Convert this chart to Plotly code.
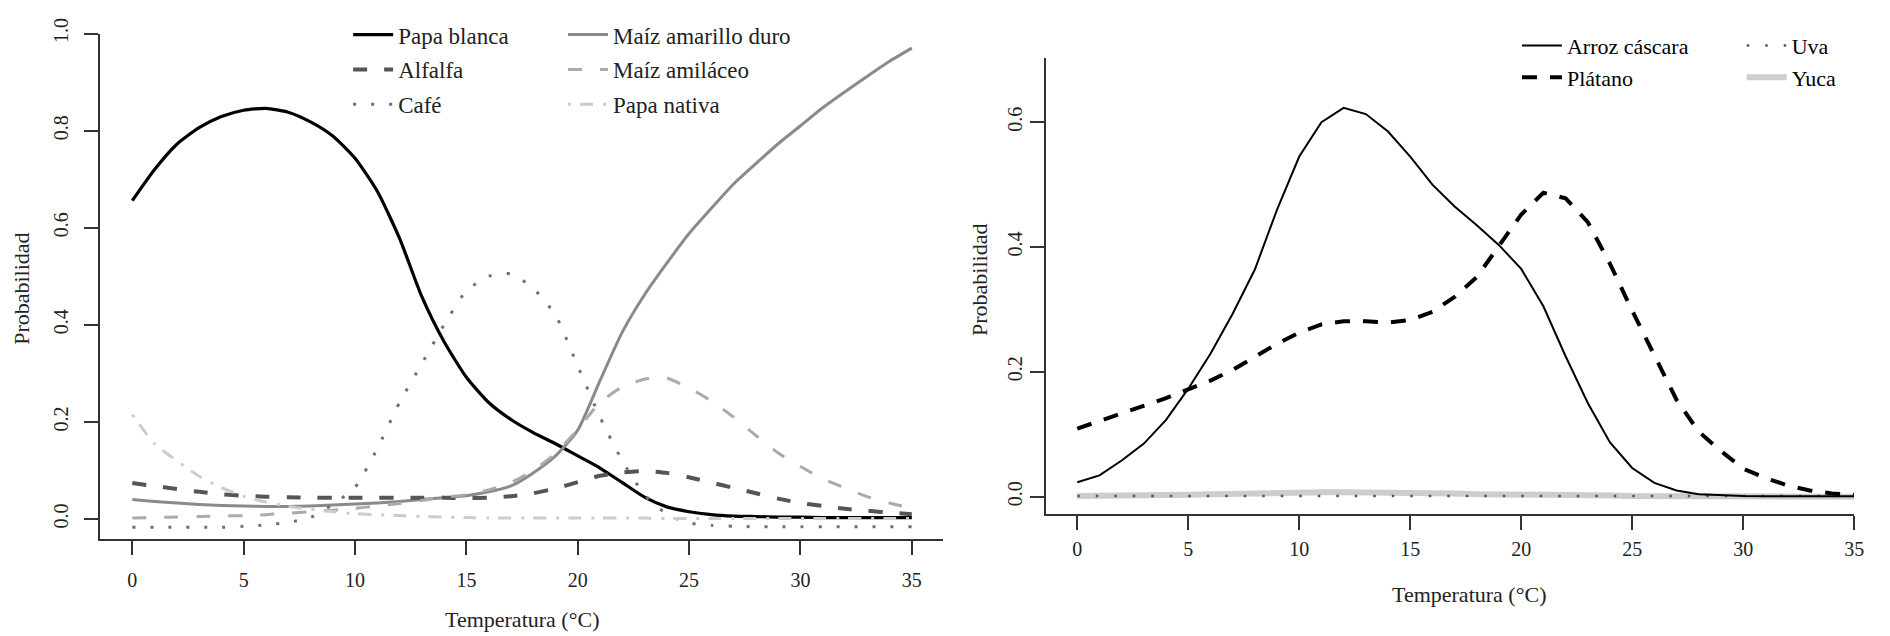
import plotly.graph_objects as go

W, H = 1890, 636

# ---------------- data ----------------
temp = list(range(0, 36))

papa_blanca = [0.656, 0.72, 0.772, 0.806, 0.829, 0.842, 0.846, 0.838, 0.818, 0.789,
               0.743, 0.675, 0.578, 0.458, 0.365, 0.292, 0.24, 0.205, 0.178, 0.155,
               0.13, 0.105, 0.075, 0.045, 0.025, 0.015, 0.009, 0.006, 0.005, 0.004,
               0.004, 0.003, 0.003, 0.003, 0.003, 0.003]
alfalfa = [0.074, 0.068, 0.062, 0.056, 0.051, 0.048, 0.046, 0.045, 0.044, 0.044,
           0.044, 0.044, 0.044, 0.044, 0.044, 0.043, 0.044, 0.047, 0.053, 0.063,
           0.076, 0.089, 0.096, 0.099, 0.095, 0.086, 0.075, 0.064, 0.053, 0.042,
           0.033, 0.027, 0.021, 0.017, 0.013, 0.010]
cafe = [-0.017, -0.017, -0.017, -0.017, -0.017, -0.015, -0.012, -0.007, 0.003, 0.03,
        0.065, 0.145, 0.24, 0.32, 0.40, 0.47, 0.50, 0.505, 0.475, 0.42,
        0.315, 0.21, 0.12, 0.05, 0.01, -0.008, -0.013, -0.015, -0.016, -0.016,
        -0.016, -0.016, -0.016, -0.016, -0.016, -0.016]
maiz_amarillo = [0.040, 0.036, 0.033, 0.030, 0.028, 0.027, 0.026, 0.026, 0.027, 0.029,
                 0.031, 0.033, 0.036, 0.040, 0.044, 0.048, 0.056, 0.068, 0.095, 0.13,
                 0.183, 0.285, 0.385, 0.462, 0.527, 0.588, 0.64, 0.69, 0.732, 0.773,
                 0.81, 0.847, 0.88, 0.912, 0.943, 0.970]
maiz_amilaceo = [0.002, 0.003, 0.004, 0.005, 0.006, 0.007, 0.009, 0.012, 0.015, 0.018,
                 0.022, 0.027, 0.032, 0.038, 0.045, 0.05, 0.06, 0.075, 0.10, 0.135,
                 0.185, 0.24, 0.272, 0.288, 0.29, 0.27, 0.243, 0.21, 0.172, 0.136,
                 0.108, 0.083, 0.064, 0.046, 0.033, 0.022]
papa_nativa = [0.215, 0.155, 0.12, 0.088, 0.065, 0.047, 0.035, 0.026, 0.02, 0.015,
               0.011, 0.009, 0.007, 0.005, 0.004, 0.003, 0.002, 0.002, 0.002, 0.002,
               0.002, 0.002, 0.002, 0.002, 0.001, 0.001, 0.001, 0.001, 0.001, 0.001,
               0.001, 0.001, 0.001, 0.001, 0.001, 0.001]

arroz = [0.023, 0.034, 0.058, 0.085, 0.123, 0.173, 0.229, 0.293, 0.364, 0.46,
         0.545, 0.60, 0.623, 0.613, 0.585, 0.545, 0.500, 0.465, 0.435, 0.403,
         0.365, 0.305, 0.225, 0.15, 0.087, 0.046, 0.022, 0.01, 0.004, 0.002,
         0.001, 0.0005, 0.0005, 0.0005, 0.0005, 0.0005]
platano = [0.109, 0.121, 0.133, 0.145, 0.158, 0.172, 0.186, 0.203, 0.224, 0.245,
           0.263, 0.276, 0.281, 0.281, 0.279, 0.283, 0.296, 0.32, 0.352, 0.403,
           0.452, 0.487, 0.478, 0.44, 0.373, 0.298, 0.226, 0.155, 0.104, 0.073,
           0.045, 0.03, 0.018, 0.01, 0.005, 0.003]
uva = [0.001] * 36
yuca = [0.001, 0.001, 0.002, 0.002, 0.003, 0.003, 0.004, 0.005, 0.005, 0.006,
        0.006, 0.007, 0.007, 0.007, 0.006, 0.006, 0.005, 0.005, 0.004, 0.004,
        0.003, 0.003, 0.002, 0.002, 0.002, 0.001, 0.001, 0.001, 0.001, 0.0,
        0.0, 0.0, 0.0, 0.0, 0.0, 0.0]

x_ticks = [0, 5, 10, 15, 20, 25, 30, 35]
y_ticks_left = [0.0, 0.2, 0.4, 0.6, 0.8, 1.0]
y_ticks_right = [0.0, 0.2, 0.4, 0.6]

# ---------------- figure ----------------
FONT = "Liberation Serif"
TXT = "#222222"

def px_x(p):
    return p / W

def px_y(p):
    return 1 - p / H

fig = go.Figure()

left_series = [
    ("Papa blanca", papa_blanca, dict(color="#000000", width=3.2), "legend"),
    ("Maíz amarillo duro", maiz_amarillo, dict(color="#8a8a8a", width=3), "legend2"),
    ("Alfalfa", alfalfa, dict(color="#555555", width=4, dash="14px,17px"), "legend"),
    ("Maíz amiláceo", maiz_amilaceo, dict(color="#ababab", width=3, dash="14px,18px"), "legend2"),
    ("Café", cafe, dict(color="#707070", width=3, dash="3px,15px"), "legend"),
    ("Papa nativa", papa_nativa, dict(color="#cccccc", width=3, dash="3px,9px,13px,10px"), "legend2"),
]
for name, ys, line, lg in left_series:
    fig.add_trace(go.Scatter(x=temp, y=ys, mode="lines", name=name,
                             line=dict(shape="spline", smoothing=0.6, **line),
                             xaxis="x", yaxis="y", legend=lg, legendgroup=name))

right_series = [
    ("Yuca", yuca, dict(color="#cdcdcd", width=6), "legend4"),
    ("Uva", uva, dict(color="#555555", width=2.5, dash="2.5px,16px"), "legend4"),
    ("Plátano", platano, dict(color="#000000", width=4, dash="15px,13px"), "legend3"),
    ("Arroz cáscara", arroz, dict(color="#000000", width=2), "legend3"),
]
for name, ys, line, lg in right_series:
    fig.add_trace(go.Scatter(x=temp, y=ys, mode="lines", name=name, line=line,
                             xaxis="x2", yaxis="y2", legend=lg, legendgroup=name))

axis_common = dict(showgrid=False, zeroline=False, showline=True, linecolor="#333333",
                   linewidth=2, ticks="outside", ticklen=14, tickwidth=2,
                   tickcolor="#333333", tickfont=dict(family=FONT, size=20, color=TXT))

fig.update_layout(
    width=W, height=H,
    margin=dict(l=0, r=0, t=0, b=0),
    paper_bgcolor="white", plot_bgcolor="white",
    font=dict(family=FONT, size=20, color=TXT),
    xaxis=dict(domain=[px_x(101), px_x(948)], range=[-1.43, 36.4],
               tickvals=x_ticks, ticktext=[str(v) for v in x_ticks],
               ticklabelstandoff=8, anchor="y", **axis_common),
    yaxis=dict(domain=[px_y(536), px_y(18)], range=[-0.0402, 1.0],
               tickvals=y_ticks_left, ticktext=["%.1f" % v for v in y_ticks_left],
               tickangle=-90, ticklabelstandoff=8, anchor="x", **axis_common),
    xaxis2=dict(domain=[px_x(1052), px_x(1864)], range=[-1.39, 35.0],
                tickvals=x_ticks, ticktext=[str(v) for v in x_ticks],
                ticklabelstandoff=2, anchor="y2", **axis_common),
    yaxis2=dict(domain=[px_y(511), px_y(43)], range=[-0.028, 0.703],
                tickvals=y_ticks_right, ticktext=["%.1f" % v for v in y_ticks_right],
                tickangle=-90, ticklabelstandoff=0, anchor="x2", **axis_common),
    showlegend=True,
)

legend_common = dict(orientation="v", xanchor="left", yanchor="top",
                     bgcolor="rgba(0,0,0,0)", borderwidth=0, tracegroupgap=2,
                     font=dict(family=FONT, size=23, color=TXT), itemwidth=40)
right_legend = {**legend_common, "tracegroupgap": 0,
                "font": dict(family=FONT, size=22, color="#000000")}
fig.update_layout(
    legend=dict(x=px_x(350), y=px_y(-3), traceorder="grouped", **legend_common),
    legend2=dict(x=px_x(566), y=px_y(-3), traceorder="grouped", **legend_common),
    legend3=dict(x=px_x(1525), y=px_y(9), traceorder="reversed", **right_legend),
    legend4=dict(x=px_x(1751), y=px_y(9), traceorder="reversed", **right_legend),
)

title_font = dict(family=FONT, size=22, color=TXT)
annotations = [
    dict(text="Probabilidad", x=px_x(22), y=px_y(280), textangle=-90),
    dict(text="Probabilidad", x=px_x(984), y=px_y(271), textangle=-90),
    dict(text="Temperatura (°C)", x=px_x(525), y=px_y(619)),
    dict(text="Temperatura (°C)", x=px_x(1477), y=px_y(593)),
]
for a in annotations:
    fig.add_annotation(xref="paper", yref="paper", showarrow=False,
                       xanchor="center", yanchor="middle", font=title_font, **a)

fig.write_html("out.html")
